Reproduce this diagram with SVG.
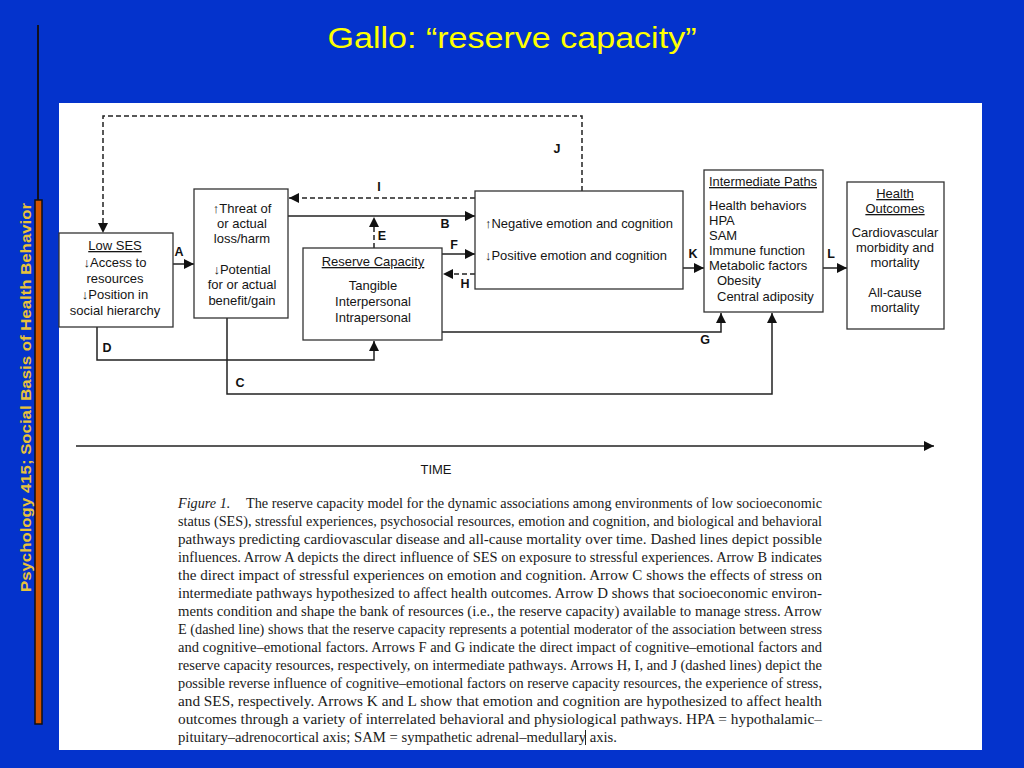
<svg xmlns="http://www.w3.org/2000/svg" width="1024" height="768" viewBox="0 0 1024 768">
<defs>
<style>
.box{fill:#fff;stroke:#333;stroke-width:1.3}
.t{font-family:"Liberation Sans",Arial,sans-serif;font-size:13px;fill:#151515}
.c{text-anchor:middle}
.u{text-decoration:underline}
.lbl{font-family:"Liberation Sans",Arial,sans-serif;font-size:12.5px;font-weight:bold;fill:#111}
.ln{fill:none;stroke:#222;stroke-width:1.5}
.dash{stroke-dasharray:5,3}
.cap{font-family:"Liberation Serif","Times New Roman",serif;font-size:14.2px;fill:#1a1a1a}
</style>
<marker id="ah" viewBox="0 0 10 10" refX="10" refY="5" markerWidth="10" markerHeight="10" markerUnits="userSpaceOnUse" orient="auto">
<path d="M0,0 L10,5 L0,10 z" fill="#111"/>
</marker>
</defs>
<rect x="0" y="0" width="1024" height="768" fill="#0433CC"/>
<g id="sidebar">
<line x1="38" y1="25" x2="38" y2="205" stroke="#101020" stroke-width="2"/>
<rect x="35" y="200" width="7" height="524" fill="#D45500" stroke="#111" stroke-width="1.5"/>
<text x="0" y="0" transform="translate(31,592) rotate(-90)" font-family="'Liberation Sans',Arial,sans-serif" font-size="15" font-weight="bold" fill="#E8C23A" textLength="389" lengthAdjust="spacingAndGlyphs">Psychology 415; Social Basis of Health Behavior</text>
</g>
<text x="512" y="48" text-anchor="middle" font-family="'Liberation Sans',Arial,sans-serif" font-size="30" fill="#FFFF00" textLength="369" lengthAdjust="spacingAndGlyphs">Gallo: “reserve capacity”</text>
<rect x="59" y="103" width="923" height="647" fill="#fff"/>
<g id="connectors">
<polyline class="ln dash" points="582,191 582,116 103,116 103,233" marker-end="url(#ah)"/>
<line class="ln dash" x1="475" y1="198" x2="289" y2="198" marker-end="url(#ah)"/>
<line class="ln" x1="288" y1="216" x2="475" y2="216" marker-end="url(#ah)"/>
<line class="ln dash" x1="374" y1="248" x2="374" y2="217" marker-end="url(#ah)"/>
<line class="ln" x1="442" y1="254" x2="475" y2="254" marker-end="url(#ah)"/>
<line class="ln dash" x1="475" y1="274" x2="443" y2="274" marker-end="url(#ah)"/>
<line class="ln" x1="173" y1="264" x2="194" y2="264" marker-end="url(#ah)"/>
<polyline class="ln" points="97,327 97,360 374,360 374,341" marker-end="url(#ah)"/>
<polyline class="ln" points="227,318 227,394 772,394 772,313" marker-end="url(#ah)"/>
<polyline class="ln" points="442,332 721,332 721,313" marker-end="url(#ah)"/>
<line class="ln" x1="683" y1="268" x2="704" y2="268" marker-end="url(#ah)"/>
<line class="ln" x1="823" y1="268" x2="847" y2="268" marker-end="url(#ah)"/>
<line class="ln" x1="76" y1="446" x2="934" y2="446" marker-end="url(#ah)"/>
<text class="lbl" x="557" y="153" text-anchor="middle">J</text>
<text class="lbl" x="379" y="191" text-anchor="middle">I</text>
<text class="lbl" x="445" y="228" text-anchor="middle">B</text>
<text class="lbl" x="382" y="240" text-anchor="middle">E</text>
<text class="lbl" x="454" y="249" text-anchor="middle">F</text>
<text class="lbl" x="465" y="288" text-anchor="middle">H</text>
<text class="lbl" x="179" y="256" text-anchor="middle">A</text>
<text class="lbl" x="107" y="352" text-anchor="middle">D</text>
<text class="lbl" x="240" y="387" text-anchor="middle">C</text>
<text class="lbl" x="705" y="344" text-anchor="middle">G</text>
<text class="lbl" x="693" y="258" text-anchor="middle">K</text>
<text class="lbl" x="831" y="258" text-anchor="middle">L</text>
</g>
<g id="low-ses">
<rect class="box" x="59" y="233" width="114" height="94"/>
<text class="t c u" x="115" y="250">Low SES</text>
<text class="t c" x="115" y="267">↓Access to</text>
<text class="t c" x="115" y="283">resources</text>
<text class="t c" x="115" y="299">↓Position in</text>
<text class="t c" x="115" y="315">social hierarchy</text>
</g>
<g id="stress">
<rect class="box" x="194" y="189" width="94" height="129"/>
<text class="t c" x="242" y="213">↑Threat of</text>
<text class="t c" x="242" y="228">or actual</text>
<text class="t c" x="242" y="243">loss/harm</text>
<text class="t c" x="242" y="274">↓Potential</text>
<text class="t c" x="242" y="289">for or actual</text>
<text class="t c" x="242" y="305">benefit/gain</text>
</g>
<g id="reserve">
<rect class="box" x="303" y="248" width="139" height="92"/>
<text class="t c u" x="373" y="266">Reserve Capacity</text>
<text class="t c" x="373" y="290">Tangible</text>
<text class="t c" x="373" y="306">Interpersonal</text>
<text class="t c" x="373" y="322">Intrapersonal</text>
</g>
<g id="emotion">
<rect class="box" x="475" y="191" width="208" height="98"/>
<text class="t" x="485" y="228" textLength="188" lengthAdjust="spacingAndGlyphs">↑Negative emotion and cognition</text>
<text class="t" x="485" y="260" textLength="182" lengthAdjust="spacingAndGlyphs">↓Positive emotion and cognition</text>
</g>
<g id="intermediate">
<rect class="box" x="704" y="170" width="119" height="142"/>
<text class="t u" x="709" y="186" textLength="108" lengthAdjust="spacingAndGlyphs">Intermediate Paths</text>
<text class="t" x="709" y="210">Health behaviors</text>
<text class="t" x="709" y="225">HPA</text>
<text class="t" x="709" y="240">SAM</text>
<text class="t" x="709" y="255">Immune function</text>
<text class="t" x="709" y="270">Metabolic factors</text>
<text class="t" x="717" y="285">Obesity</text>
<text class="t" x="717" y="301">Central adiposity</text>
</g>
<g id="outcomes">
<rect class="box" x="847" y="182" width="97" height="147"/>
<text class="t c u" x="895" y="198">Health</text>
<text class="t c u" x="895" y="213">Outcomes</text>
<text class="t c" x="895" y="237">Cardiovascular</text>
<text class="t c" x="895" y="252">morbidity and</text>
<text class="t c" x="895" y="267">mortality</text>
<text class="t c" x="895" y="297">All-cause</text>
<text class="t c" x="895" y="312">mortality</text>
</g>
<g id="time">
<text class="t" x="436" y="474" text-anchor="middle" font-size="14">TIME</text>
</g>
<g id="caption">
<text class="cap" x="178" y="508" font-style="italic">Figure 1.</text>
<text class="cap" x="246" y="508" textLength="576" lengthAdjust="spacingAndGlyphs">The reserve capacity model for the dynamic associations among environments of low socioeconomic</text>
<text class="cap" x="178" y="526" textLength="644" lengthAdjust="spacingAndGlyphs">status (SES), stressful experiences, psychosocial resources, emotion and cognition, and biological and behavioral</text>
<text class="cap" x="178" y="544" textLength="644" lengthAdjust="spacingAndGlyphs">pathways predicting cardiovascular disease and all-cause mortality over time. Dashed lines depict possible</text>
<text class="cap" x="178" y="562" textLength="644" lengthAdjust="spacingAndGlyphs">influences. Arrow A depicts the direct influence of SES on exposure to stressful experiences. Arrow B indicates</text>
<text class="cap" x="178" y="580" textLength="644" lengthAdjust="spacingAndGlyphs">the direct impact of stressful experiences on emotion and cognition. Arrow C shows the effects of stress on</text>
<text class="cap" x="178" y="598" textLength="644" lengthAdjust="spacingAndGlyphs">intermediate pathways hypothesized to affect health outcomes. Arrow D shows that socioeconomic environ-</text>
<text class="cap" x="178" y="616" textLength="644" lengthAdjust="spacingAndGlyphs">ments condition and shape the bank of resources (i.e., the reserve capacity) available to manage stress. Arrow</text>
<text class="cap" x="178" y="634" textLength="644" lengthAdjust="spacingAndGlyphs">E (dashed line) shows that the reserve capacity represents a potential moderator of the association between stress</text>
<text class="cap" x="178" y="652" textLength="644" lengthAdjust="spacingAndGlyphs">and cognitive–emotional factors. Arrows F and G indicate the direct impact of cognitive–emotional factors and</text>
<text class="cap" x="178" y="670" textLength="644" lengthAdjust="spacingAndGlyphs">reserve capacity resources, respectively, on intermediate pathways. Arrows H, I, and J (dashed lines) depict the</text>
<text class="cap" x="178" y="688" textLength="644" lengthAdjust="spacingAndGlyphs">possible reverse influence of cognitive–emotional factors on reserve capacity resources, the experience of stress,</text>
<text class="cap" x="178" y="706" textLength="644" lengthAdjust="spacingAndGlyphs">and SES, respectively. Arrows K and L show that emotion and cognition are hypothesized to affect health</text>
<text class="cap" x="178" y="724" textLength="644" lengthAdjust="spacingAndGlyphs">outcomes through a variety of interrelated behavioral and physiological pathways. HPA = hypothalamic–</text>
<text class="cap" x="178" y="742" textLength="439" lengthAdjust="spacingAndGlyphs">pituitary–adrenocortical axis; SAM = sympathetic adrenal–medullary axis.</text>
<line x1="585.5" y1="730" x2="585.5" y2="745" stroke="#222" stroke-width="1"/>
</g>
</svg>
